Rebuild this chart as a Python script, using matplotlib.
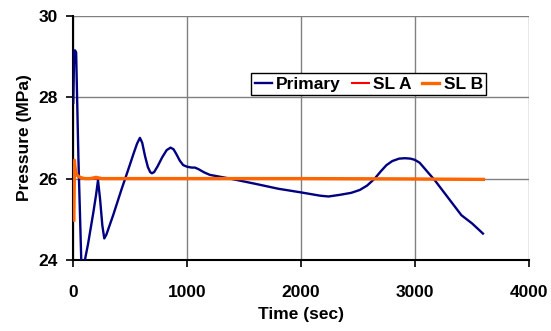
import matplotlib
matplotlib.use("Agg")
import matplotlib.pyplot as plt

plt.rcParams['font.family'] = ['Liberation Sans', 'DejaVu Sans']
plt.rcParams['font.weight'] = 'bold'

# Primary loop pressure (MPa) vs time (sec)
primary_t = [0, 8, 15, 25, 45, 70, 95, 130, 175, 200, 217, 235, 255, 272, 290,
             350, 424, 480, 530, 560, 585, 605, 630, 655, 675, 690, 710, 740,
             780, 820, 854, 880, 905, 935, 965, 1000, 1040, 1068, 1100, 1150,
             1200, 1375, 1600, 1800, 2000, 2166, 2240, 2339, 2440, 2515, 2580,
             2646, 2700, 2749, 2800, 2860, 2910, 2960, 2998, 3040, 3071, 3120,
             3173, 3290, 3407, 3500, 3596]
primary_p = [27.86, 29.14, 29.15, 29.1, 26.5, 24.0, 23.9, 24.4, 25.15, 25.6,
             25.96, 25.5, 24.85, 24.53, 24.62, 25.1, 25.74, 26.2, 26.62, 26.86,
             27.0, 26.88, 26.55, 26.28, 26.16, 26.13, 26.16, 26.3, 26.52, 26.7,
             26.76, 26.72, 26.6, 26.44, 26.33, 26.29, 26.27, 26.27, 26.23, 26.15,
             26.09, 26.0, 25.87, 25.75, 25.66, 25.58, 25.56, 25.6, 25.65, 25.72,
             25.83, 26.0, 26.18, 26.33, 26.43, 26.49, 26.5, 26.49, 26.46, 26.39,
             26.29, 26.13, 25.96, 25.53, 25.1, 24.9, 24.65]

# Steam line A pressure
sla_t = [5, 10, 20, 50, 100, 1000, 2000, 3000, 3600]
sla_p = [25.2, 26.35, 26.12, 26.03, 26.0, 26.0, 26.0, 25.99, 25.98]

# Steam line B pressure
slb_t = [5, 10, 13, 20, 30, 45, 70, 100, 150, 200, 250, 400, 1000, 2000, 3000, 3600]
slb_p = [24.98, 26.45, 26.32, 26.18, 26.1, 26.05, 26.02, 26.0, 26.0, 26.03, 26.0,
         26.0, 26.0, 26.0, 25.99, 25.98]

x_ticks = [0, 1000, 2000, 3000, 4000]
y_ticks = [24, 26, 28, 30]

fig = plt.figure(figsize=(5.51, 3.31), dpi=100)
ax = fig.add_axes([0.133, 0.2145, 0.827, 0.738])

ax.plot(primary_t, primary_p, color='#000080', lw=1.7, label='Primary', zorder=3)
ax.plot(sla_t, sla_p, color='#FF0000', lw=1.5, label='SL A', zorder=4)
ax.plot(slb_t, slb_p, color='#FF6600', lw=2.4, label='SL B', zorder=5)

ax.set_xlim(0, 4000)
ax.set_ylim(24, 30)
ax.set_xticks(x_ticks)
ax.set_yticks(y_ticks)
ax.grid(True, color='#808080', lw=1.0)
ax.set_axisbelow(True)

for side in ('top', 'right'):
    ax.spines[side].set_visible(False)
for side in ('left', 'bottom'):
    ax.spines[side].set_color('black')
    ax.spines[side].set_linewidth(1.5)

ax.tick_params(axis='both', direction='out', length=5, width=1.2, labelsize=12.5)
ax.tick_params(axis='x', pad=13)
ax.tick_params(axis='y', pad=6)

ax.set_xlabel('Time (sec)', fontsize=12.5, fontweight='bold', labelpad=5)
ax.set_ylabel('Pressure (MPa)', fontsize=12.5, fontweight='bold', labelpad=5)

leg = ax.legend(loc='center', bbox_to_anchor=(0.6485, 0.7204), ncol=3,
                fontsize=12.5, frameon=True, fancybox=False, framealpha=1,
                edgecolor='black', handlelength=1.0, handletextpad=0.25,
                columnspacing=0.6, borderpad=0.2, borderaxespad=0)
leg.get_frame().set_linewidth(1.0)
for t in leg.get_texts():
    t.set_fontweight('bold')

fig.savefig('out.png', dpi=100)
